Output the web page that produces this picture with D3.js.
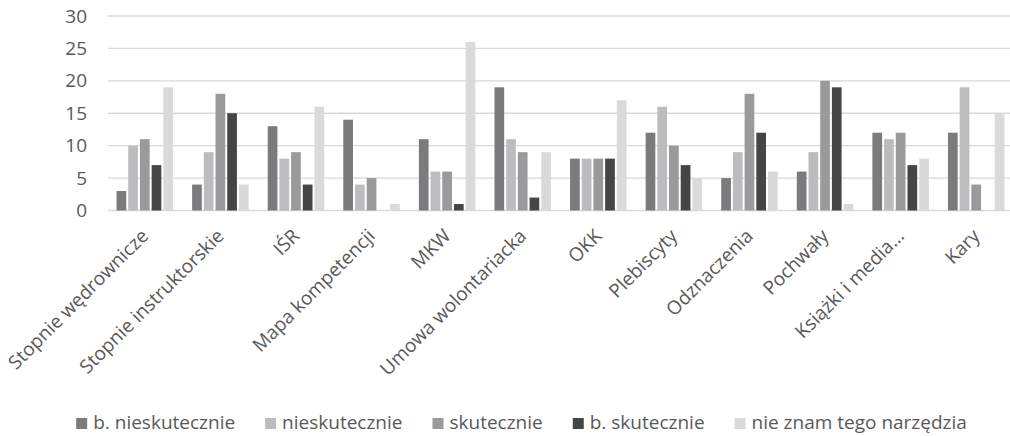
<!DOCTYPE html>
<html>
<head>
<meta charset="utf-8">
<script src="https://cdn.jsdelivr.net/npm/d3@7"></script>
<style>
  html, body { margin: 0; padding: 0; background: #fff; }
  svg { display: block; font-family: "Open Sans", sans-serif; }
</style>
</head>
<body>
<svg id="chart" width="1010" height="436"></svg>
<script>
// Categories (tools) and the five answer series
const categories = [
  "Stopnie wędrownicze", "Stopnie instruktorskie", "IŚR", "Mapa kompetencji",
  "MKW", "Umowa wolontariacka", "OKK", "Plebiscyty", "Odznaczenia",
  "Pochwały", "Książki i media...", "Kary"
];
const seriesNames = ["b. nieskutecznie", "nieskutecznie", "skutecznie", "b. skutecznie", "nie znam tego narzędzia"];
const bNieskutecznie = [3, 4, 13, 14, 11, 19, 8, 12, 5, 6, 12, 12];
const nieskutecznie  = [10, 9, 8, 4, 6, 11, 8, 16, 9, 9, 11, 19];
const skutecznie     = [11, 18, 9, 5, 6, 9, 8, 10, 18, 20, 12, 4];
const bSkutecznie    = [7, 15, 4, 0, 1, 2, 8, 7, 12, 19, 7, 0];
const nieZnam        = [19, 4, 16, 1, 26, 9, 17, 5, 6, 1, 8, 15];
const yTicks = [0, 5, 10, 15, 20, 25, 30];

const seriesValues = [bNieskutecznie, nieskutecznie, skutecznie, bSkutecznie, nieZnam];
const colors = ["#7b7b7d", "#bcbcbe", "#9a9a9c", "#454546", "#dadadb"];

const svg = d3.select("#chart");
const textColor = "#595959";
const fontSize = 19;

const plot = { left: 108, right: 1015, top: 16, bottom: 210.5 };

const x0 = d3.scaleBand().domain(categories).range([plot.left, plot.right]).padding(0);
const groupWidth = 58.5;
const x1 = d3.scaleBand().domain(seriesNames)
  .range([(x0.bandwidth() - groupWidth) / 2, (x0.bandwidth() + groupWidth) / 2]).padding(0);
const y = d3.scaleLinear().domain([0, 30]).range([plot.bottom, plot.top]);

// Horizontal gridlines (including the baseline)
svg.append("g")
  .selectAll("line")
  .data(yTicks)
  .join("line")
  .attr("x1", plot.left).attr("x2", 1010)
  .attr("y1", d => y(d)).attr("y2", d => y(d))
  .attr("stroke", "#d9d9d9").attr("stroke-width", 1.3);

// Y axis labels
const yAxis = d3.axisLeft(y).tickValues(yTicks).tickSize(0).tickPadding(0);
const yg = svg.append("g").attr("transform", "translate(87,0)").call(yAxis);
yg.select(".domain").remove();
yg.selectAll("text")
  .attr("fill", textColor)
  .style("font-size", fontSize + "px")
  .style("font-family", "'Open Sans', sans-serif");

// Bars
const gap = 2;
const groups = svg.append("g")
  .selectAll("g")
  .data(categories)
  .join("g")
  .attr("transform", d => `translate(${x0(d)},0)`);

groups.selectAll("rect")
  .data((c, i) => seriesNames.map((s, k) => ({ s, k, v: seriesValues[k][i] })).filter(d => d.v > 0))
  .join("rect")
  .attr("x", d => x1(d.s))
  .attr("width", x1.bandwidth() - gap)
  .attr("y", d => y(d.v))
  .attr("height", d => y(0) - y(d.v))
  .attr("fill", d => colors[d.k]);

// Rotated category labels
const xAxis = d3.axisBottom(x0).tickSize(0).tickPadding(0);
const xg = svg.append("g").attr("transform", `translate(0,${plot.bottom})`).call(xAxis);
xg.select(".domain").remove();
xg.selectAll(".tick text")
  .attr("fill", textColor)
  .style("font-size", fontSize + "px")
  .style("font-family", "'Open Sans', sans-serif")
  .attr("text-anchor", "end")
  .attr("y", 0)
  .attr("dy", "0.35em")
  .attr("transform", "translate(-1,22) rotate(-45)");

// Legend
const legend = svg.append("g");
const items = legend.selectAll("g")
  .data(seriesNames)
  .join("g");
items.append("rect")
  .attr("width", 11).attr("height", 11)
  .attr("y", 418)
  .attr("fill", (d, i) => colors[i]);
items.append("text")
  .attr("x", 17).attr("y", 429)
  .attr("fill", textColor)
  .style("font-size", fontSize + "px")
  .text(d => d);

let cursor = 0;
const itemGap = 30;
const offsets = [];
items.each(function () {
  const w = this.querySelector("text").getComputedTextLength();
  offsets.push(cursor);
  cursor += 17 + w + itemGap;
});
const totalWidth = cursor - itemGap;
const legendStart = 521.5 - totalWidth / 2;
items.attr("transform", (d, i) => `translate(${legendStart + offsets[i]},0)`);
</script>
</body>
</html>
